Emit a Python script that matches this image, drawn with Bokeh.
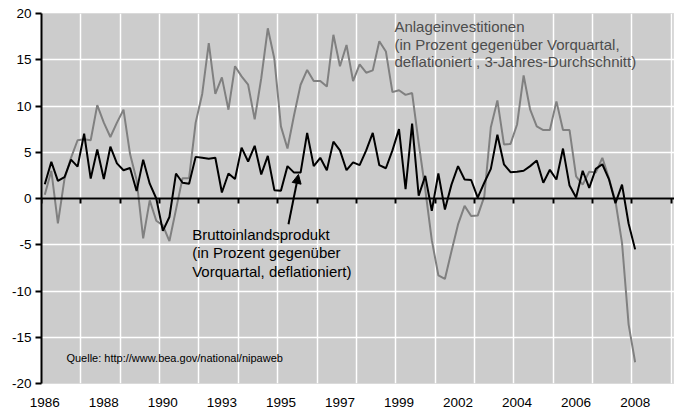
from bokeh.plotting import figure
from bokeh.models import FixedTicker, LinearAxis, Label, Arrow, NormalHead, Range1d
from bokeh.embed import file_html
from bokeh.resources import INLINE

# Bruttoinlandsprodukt, % gg. Vorquartal, quarterly from 1986
bip = [1.55, 3.96, 1.9, 2.3, 4.2, 3.45, 7.0, 2.15, 5.3, 2.1,
       5.6, 3.8, 3.06, 3.3, 0.8, 4.2, 1.6, 0.0, -3.5, -2.0,
       2.7, 1.7, 1.6, 4.5, 4.4, 4.3, 4.4, 0.65, 2.7, 2.1,
       5.5, 4.0, 5.7, 2.6, 4.6, 0.9, 0.83, 3.5, 2.8, 2.8,
       7.1, 3.5, 4.4, 3.06, 6.15, 5.2, 3.06, 3.9, 3.6, 5.2,
       7.1, 3.6, 3.27, 5.2, 7.5, 1.0, 8.1, 0.3, 2.45, -1.33,
       2.7, -1.2, 1.5, 3.5, 2.05, 2.0, 0.1, 1.7, 3.2, 6.9,
       3.7, 2.85, 2.9, 3.0, 3.5, 4.1, 1.7, 3.1, 2.05, 5.4,
       1.4, 0.1, 3.0, 1.15, 3.2, 3.7, 2.1, -0.5, 1.5, -2.7,
       -5.5]

# Anlageinvestitionen
anlage = [0.4, 3.0, -2.7, 2.1, 4.4, 6.3, 6.4, 6.3, 10.1, 8.2,
          6.65, 8.2, 9.6, 4.8, 2.0, -4.3, -0.2, -2.4, -2.9, -4.6,
          -1.2, 2.2, 2.2, 8.2, 11.3, 16.8, 11.3, 13.1, 9.6, 14.3,
          13.2, 12.3, 8.55, 13.0, 18.4, 15.1, 7.8, 5.4, 9.0, 12.3,
          13.9, 12.7, 12.7, 12.1, 17.7, 14.3, 16.6, 12.7, 14.5, 13.6,
          13.85, 17.0, 15.9, 11.5, 11.7, 11.2, 11.4, 6.0, 1.0, -4.5,
          -8.3, -8.7, -5.7, -2.8, -0.8, -1.9, -1.85, 0.2, 7.7, 10.6,
          5.85, 5.9, 8.0, 13.3, 9.6, 7.8, 7.4, 7.4, 10.5, 7.4,
          7.4, 2.4, 1.5, 2.9, 2.8, 4.4, 2.2, -0.3, -4.8, -13.6,
          -17.7]

year_labels = ["1986", "1988", "1990", "1993", "1995", "1997",
               "1999", "2002", "2004", "2006", "2008"]
year_label_every = 9
n_categories = 96
grid_every = 6

ytick_vals = [-20, -15, -10, -5, 0, 5, 10, 15, 20]
ytick_labels = ["-20", "-15", "-10", "-5", "0", "5", "10", "15", "20"]

x = list(range(len(bip)))
label_pos = [i * year_label_every for i in range(len(year_labels))]
grid_x = [-0.5 + grid_every * k for k in range(n_categories // grid_every + 1)]

FONT = "Liberation Sans"

p = figure(width=674, height=413, output_backend="svg", toolbar_location=None,
           x_range=Range1d(-0.5, n_categories), y_range=Range1d(-20, 20),
           min_border_left=41, min_border_right=0, min_border_top=13,
           min_border_bottom=30, x_axis_location=None, y_axis_location=None,
           background_fill_color="#CCCCCC", border_fill_color="white")
p.outline_line_color = "#DADADA"

# grids
p.xgrid.ticker = FixedTicker(ticks=grid_x)
p.ygrid.ticker = FixedTicker(ticks=ytick_vals)
for g in (p.xgrid, p.ygrid):
    g.grid_line_color = "white"
    g.grid_line_width = 1.5

# y axis
yaxis = LinearAxis(ticker=FixedTicker(ticks=ytick_vals),
                   major_label_overrides=dict(zip(ytick_vals, ytick_labels)),
                   axis_line_color="black", axis_line_width=2,
                   major_tick_out=6, major_tick_in=0, major_tick_line_width=2,
                   minor_tick_line_color=None, major_label_standoff=4,
                   major_label_text_font=FONT, major_label_text_font_size="13.5px",
                   major_label_text_color="black")
p.add_layout(yaxis, "left")

# x labels axis
xlab = LinearAxis(ticker=FixedTicker(ticks=label_pos),
                  major_label_overrides=dict(zip(label_pos, year_labels)),
                  axis_line_color=None, major_tick_line_color=None,
                  minor_tick_line_color=None, major_label_standoff=8,
                  major_label_text_font=FONT, major_label_text_font_size="13.5px",
                  major_label_text_color="black")
p.add_layout(xlab, "below")

# axis at zero with tick marks
zaxis = LinearAxis(fixed_location=0, ticker=FixedTicker(ticks=grid_x),
                   axis_line_color="black", axis_line_width=2,
                   major_tick_out=5, major_tick_in=0, major_tick_line_width=2,
                   major_tick_line_color="black", minor_tick_line_color=None,
                   major_label_text_alpha=0, major_label_text_font_size="0px",
                   major_label_standoff=0)
p.add_layout(zaxis, "below")

p.line(x, anlage, line_color="#808080", line_width=2)
p.line(x, bip, line_color="black", line_width=2)

anl_lines = ["Anlageinvestitionen",
             "(in Prozent gegenüber Vorquartal,",
             "deflationiert , 3-Jahres-Durchschnitt)"]
for k, t in enumerate(anl_lines):
    p.add_layout(Label(x=53.3, y=18.6, y_offset=-17.7 * k, text=t,
                       text_font=FONT, text_font_size="15px",
                       text_color="#4D4D4D", text_baseline="middle"))

bip_lines = ["Bruttoinlandsprodukt",
             "(in Prozent gegenüber",
             "Vorquartal, deflationiert)"]
for k, t in enumerate(bip_lines):
    p.add_layout(Label(x=22.47, y=-3.87, y_offset=-18.4 * k, text=t,
                       text_font=FONT, text_font_size="15px",
                       text_color="black", text_baseline="middle"))

p.add_layout(Label(x=3.3, y=-17.2, text="Quelle: http://www.bea.gov/national/nipaweb",
                   text_font=FONT, text_font_size="11px", text_color="black",
                   text_baseline="middle"))

p.add_layout(Arrow(end=NormalHead(size=9, fill_color="black", line_color="black"),
                   x_start=37.15, y_start=-2.79, x_end=38.67, y_end=2.6,
                   line_color="black", line_width=2))

open("out.html", "w").write(file_html(p, INLINE))
